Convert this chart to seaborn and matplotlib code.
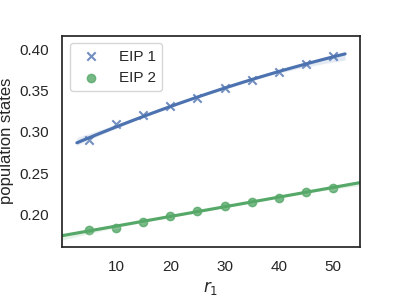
import numpy as np
import pandas as pd
import matplotlib
matplotlib.use("Agg")
import matplotlib.pyplot as plt
import seaborn as sns

r1 = [5, 10, 15, 20, 25, 30, 35, 40, 45, 50]
eip1 = [0.290, 0.309, 0.320, 0.331, 0.341, 0.353, 0.363, 0.372, 0.382, 0.392]
eip2 = [0.1816, 0.1840, 0.1904, 0.1977, 0.2038, 0.2098, 0.2155, 0.2204, 0.2265, 0.2325]

sns.set_theme(style="white", context="notebook")
plt.rcParams["font.family"] = ["Liberation Sans", "DejaVu Sans"]

df = pd.DataFrame({"r1": r1, "EIP 1": eip1, "EIP 2": eip2})

fig, ax = plt.subplots(figsize=(4, 2.98), dpi=100)
sns.regplot(data=df, x="r1", y="EIP 1", order=2, marker="x", truncate=False,
            label="EIP 1", ax=ax, color=sns.color_palette("deep")[0])
ax.set_xlim(0, 55)
sns.regplot(data=df, x="r1", y="EIP 2", order=2, marker="o", truncate=False,
            label="EIP 2", ax=ax, color=sns.color_palette("deep")[2])
ax.set_xlim(0, 55)
ax.set_ylim(0.1607, 0.4165)
ax.set_xticks([10, 20, 30, 40, 50])
ax.set_yticks([0.20, 0.25, 0.30, 0.35, 0.40])
ax.set_xlabel("$r_1$")
ax.set_ylabel("population states")
ax.legend(loc="upper left")
fig.subplots_adjust(left=0.155, right=0.9, top=0.88, bottom=0.172)
fig.savefig("out.png", dpi=100)
